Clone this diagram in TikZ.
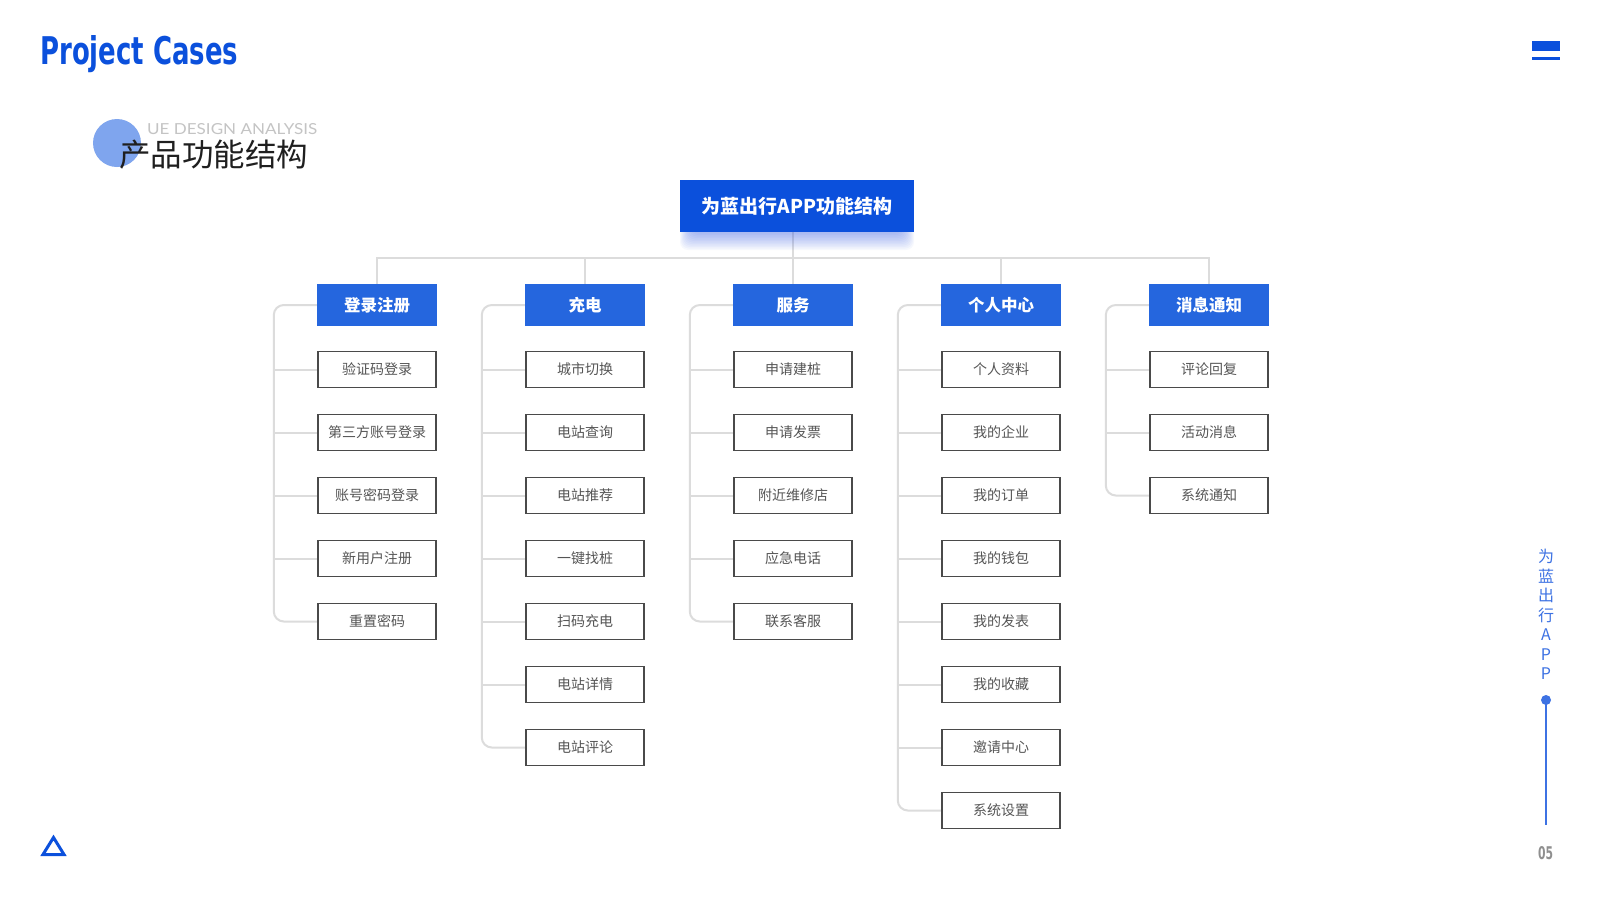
\documentclass[tikz,border=0pt]{standalone}
\usepackage{fontspec}
\setmainfont{Noto Sans CJK SC}
\newfontfamily\latofont{Lato}
\newfontfamily\dispfont{DejaVu Sans}
\usetikzlibrary{calc}
\definecolor{titleblue}{HTML}{0B50DC}
\definecolor{parentblue}{HTML}{2566DE}
\definecolor{linegray}{HTML}{DCDCDC}
\definecolor{boxgray}{HTML}{4A4A4A}
\definecolor{textgray}{HTML}{555555}
\definecolor{circleblue}{HTML}{7FA5EE}
\definecolor{subgray}{HTML}{C4C4C4}
\definecolor{sideblue}{HTML}{3D72E3}
\definecolor{numgray}{HTML}{8F8F8F}
\definecolor{shadowblue}{HTML}{3C64E6}
\pgfdeclarelayer{back}
\pgfdeclarelayer{bg}
\pgfsetlayers{back,bg,main}
\begin{document}
\begin{tikzpicture}[x=1pt,y=-1pt,
  conn/.style={draw=linegray, line width=2pt},
  parentbox/.style={fill=parentblue, text=white, minimum width=120pt, minimum height=42pt, inner sep=0pt, font=\bfseries\fontsize{16.5}{16.5}\selectfont},
  childbox/.style={draw=boxgray, line width=1.2pt, fill=white, text=textgray, minimum width=118pt, minimum height=36pt, inner sep=0pt, font=\fontsize{14}{14}\selectfont},
  titlebox/.style={fill=titleblue, text=white, minimum width=234pt, minimum height=52pt, inner sep=0pt, font=\bfseries\fontsize{19}{19}\selectfont}]
\begin{pgfonlayer}{back}
\fill[white] (0,0) rectangle (1600,900);
\end{pgfonlayer}
\path[use as bounding box] (0,0) rectangle (1600,900);

% header
\node[anchor=base west, inner sep=0pt, text=titleblue] (hdr) at (40,64) {\resizebox{198pt}{29pt}{\dispfont\bfseries Project Cases}};
\fill[titleblue] (1532,41) rectangle (1560,51);
\fill[titleblue] (1532,57) rectangle (1560,60);

% section title
\fill[circleblue] (117,143) circle (24);
\node[anchor=base west, inner sep=0pt, text=subgray] (sub) at (147,134) {\resizebox{170pt}{11pt}{\latofont UE DESIGN ANALYSIS}};
\node[anchor=base west, inner sep=0pt, text=black!88, font=\fontsize{31.5}{31.5}\selectfont] (sec) at (119,166) {产品功能结构};

% title box with shadow
\foreach \k in {1,...,12}{
  \fill[shadowblue, opacity=0.045, rounded corners=8pt] ({692-\k},{214}) rectangle ({902+\k},{232+1.5*\k});
}
\node[titlebox] (title) at (797,206) {为蓝出行APP功能结构};

% parents
\node[parentbox] (p1) at (377,305) {登录注册};
\node[parentbox] (p2) at (585,305) {充电};
\node[parentbox] (p3) at (793,305) {服务};
\node[parentbox] (p4) at (1001,305) {个人中心};
\node[parentbox] (p5) at (1209,305) {消息通知};
\coordinate (hl) at (0,258);

% children
\foreach \t [count=\i] in {验证码登录,第三方账号登录,账号密码登录,新用户注册,重置密码}{
  \node[childbox] (c1\i) at (377,{369.5+63*(\i-1)}) {\t};
}
\foreach \t [count=\i] in {城市切换,电站查询,电站推荐,一键找桩,扫码充电,电站详情,电站评论}{
  \node[childbox] (c2\i) at (585,{369.5+63*(\i-1)}) {\t};
}
\foreach \t [count=\i] in {申请建桩,申请发票,附近维修店,应急电话,联系客服}{
  \node[childbox] (c3\i) at (793,{369.5+63*(\i-1)}) {\t};
}
\foreach \t [count=\i] in {个人资料,我的企业,我的订单,我的钱包,我的发表,我的收藏,邀请中心,系统设置}{
  \node[childbox] (c4\i) at (1001,{369.5+63*(\i-1)}) {\t};
}
\foreach \t [count=\i] in {评论回复,活动消息,系统通知}{
  \node[childbox] (c5\i) at (1209,{369.5+63*(\i-1)}) {\t};
}

\begin{pgfonlayer}{bg}
  % stubs (all but the last child of each column)
  \foreach \i in {1,...,4}{\draw[conn] (c1\i.west) -- ++(-43,0);}
  \foreach \i in {1,...,6}{\draw[conn] (c2\i.west) -- ++(-43,0);}
  \foreach \i in {1,...,4}{\draw[conn] (c3\i.west) -- ++(-43,0);}
  \foreach \i in {1,...,7}{\draw[conn] (c4\i.west) -- ++(-43,0);}
  \foreach \i in {1,...,2}{\draw[conn] (c5\i.west) -- ++(-43,0);}
  % trunk
  \draw[conn] (p3.north |- title.south) -- (p3.north);
  \draw[conn] (p1.north) -- (p1.north |- hl) -- (p5.north |- hl) -- (p5.north);
  \draw[conn] (p2.north |- hl) -- (p2.north);
  \draw[conn] (p4.north |- hl) -- (p4.north);
  % brackets
  \draw[conn, rounded corners=10pt] (p1.west) -- ++(-43,0) |- (c15.west);
  \draw[conn, rounded corners=10pt] (p2.west) -- ++(-43,0) |- (c27.west);
  \draw[conn, rounded corners=10pt] (p3.west) -- ++(-43,0) |- (c35.west);
  \draw[conn, rounded corners=10pt] (p4.west) -- ++(-43,0) |- (c48.west);
  \draw[conn, rounded corners=10pt] (p5.west) -- ++(-43,0) |- (c53.west);
\end{pgfonlayer}

% right side
\node[text=sideblue, align=center, inner sep=0pt, font=\fontsize{16}{19.5}\selectfont] (side) at (1546,614.5) {为\\蓝\\出\\行\\A\\P\\P};
\fill[sideblue] (1546,700) circle (5);
\draw[sideblue, line width=2pt] (1546,700) -- (1546,825);
\node[anchor=base west, inner sep=0pt, text=numgray] (num) at (1538,859) {\resizebox{15pt}{13pt}{\dispfont\bfseries 05}};

% bottom-left triangle
\draw[titleblue, line width=3pt, line join=miter] (53.5,837.5) -- (64,854.5) -- (43,854.5) -- cycle;
\end{tikzpicture}
\end{document}
